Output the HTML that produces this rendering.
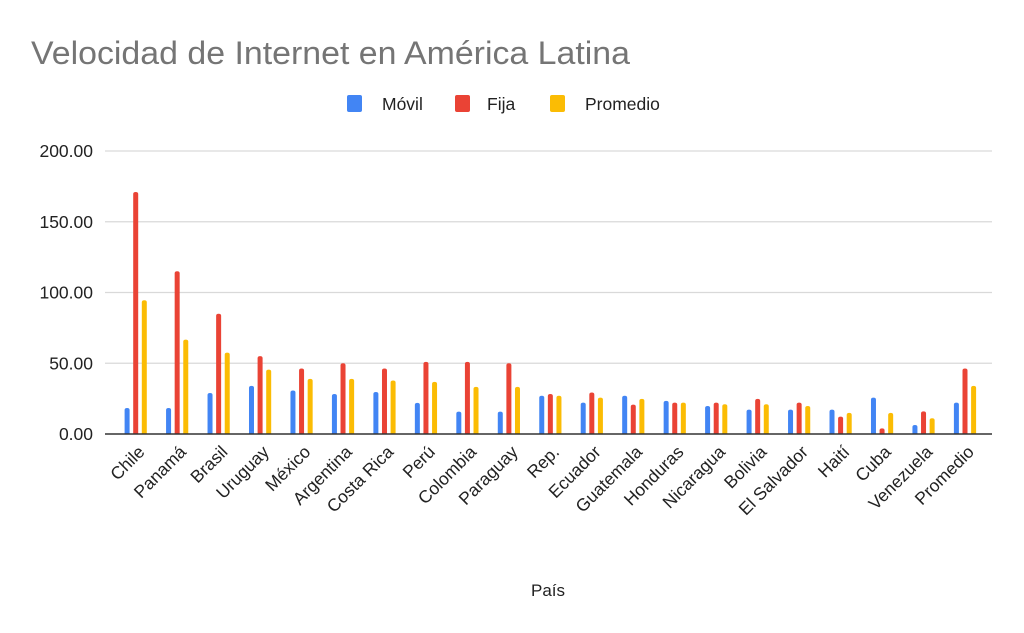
<!DOCTYPE html>
<html><head><meta charset="utf-8"><style>
body{margin:0;background:#fff;}
svg{display:block;font-family:"Liberation Sans",Arial,sans-serif;}
</style></head><body>
<svg id="chart" width="1024" height="633" viewBox="0 0 1024 633">
<rect width="1024" height="633" fill="#fff"/>
<text x="31" y="64" font-size="32" fill="#757575" textLength="599" lengthAdjust="spacingAndGlyphs">Velocidad de Internet en América Latina</text>
<g>
<g><rect x="347" y="95" width="15" height="17" rx="2" fill="#4285f4"/><text x="382" y="110" font-size="17.5" fill="#222">Móvil</text></g>
<g><rect x="455" y="95" width="15" height="17" rx="2" fill="#ea4335"/><text x="487" y="110" font-size="17.5" fill="#222">Fija</text></g>
<g><rect x="550" y="95" width="15" height="17" rx="2" fill="#fbbc04"/><text x="585" y="110" font-size="17.5" fill="#222">Promedio</text></g>
</g>
<g id="grid"></g>
<g id="yaxis"></g>
<g id="bars"></g>
<g id="xaxis"></g>
<text x="548" y="596" font-size="17" fill="#222" text-anchor="middle">País</text>
</svg>
<script>
const categories=["Chile","Panamá","Brasil","Uruguay","México","Argentina","Costa Rica","Perú","Colombia","Paraguay","Rep.","Ecuador","Guatemala","Honduras","Nicaragua","Bolivia","El Salvador","Haití","Cuba","Venezuela","Promedio"];
const movil=[18.4,18.4,29,34,30.7,28.3,29.7,22,15.8,15.8,27,22.2,27,23.4,19.8,17.2,17.2,17.2,25.7,6.4,22.2];
const fija=[171,115,85,55,46.3,50,46.3,51,51,50,28.3,29.3,20.8,22.2,22.2,24.8,22.2,12.3,4,16,46.3];
const promedio=[94.5,66.7,57.5,45.5,39,39,37.8,36.8,33.3,33.3,27,25.7,24.8,22.2,21,21,19.8,14.9,14.9,11.1,34];
const yTicks=[0,50,100,150,200];
const yTickLabels=["0.00","50.00","100.00","150.00","200.00"];
const NS="http://www.w3.org/2000/svg";
function y(v){return 434-v*(283/200);}
function xc(i){return 135.7+i*((965-135.7)/(categories.length-1));}
function mk(tag,attrs,parent){const e=document.createElementNS(NS,tag);for(const k in attrs)e.setAttribute(k,attrs[k]);parent.appendChild(e);return e;}
const grid=document.getElementById('grid'),yaxis=document.getElementById('yaxis'),bars=document.getElementById('bars'),xaxis=document.getElementById('xaxis');
yTicks.forEach((t,i)=>{
  if(t!==0){const l=mk('line',{x1:105,x2:992,y1:y(t),y2:y(t),stroke:'#d9d9d9','stroke-width':1.3},grid);
  
  }
  const tx=mk('text',{x:93,y:y(t)+6,'font-size':17.5,fill:'#222','text-anchor':'end'},yaxis);
  tx.textContent=yTickLabels[i];
  
  
});
const series=[[movil,'#4285f4',-8.6,'movil'],[fija,'#ea4335',0,'fija'],[promedio,'#fbbc04',8.6,'promedio']];
categories.forEach((c,i)=>{
  series.forEach(s=>{
    const v=s[0][i];const top=y(v);
    const b=mk('path',{d:`M${xc(i)+s[2]-2.5},434 V${top+2} Q${xc(i)+s[2]-2.5},${top} ${xc(i)+s[2]},${top} Q${xc(i)+s[2]+2.5},${top} ${xc(i)+s[2]+2.5},${top+2} V434 Z`,fill:s[1]},bars);
    
    
  });
  const t=mk('text',{x:0,y:0,'font-size':17.5,fill:'#222','text-anchor':'end',transform:`translate(${xc(i)+10},453) rotate(-45)`},xaxis);
  t.textContent=c;
  
  
});
const base=mk('line',{x1:105,x2:992,y1:434,y2:434,stroke:'#333','stroke-width':1.5},xaxis);


</script>
</body></html>
